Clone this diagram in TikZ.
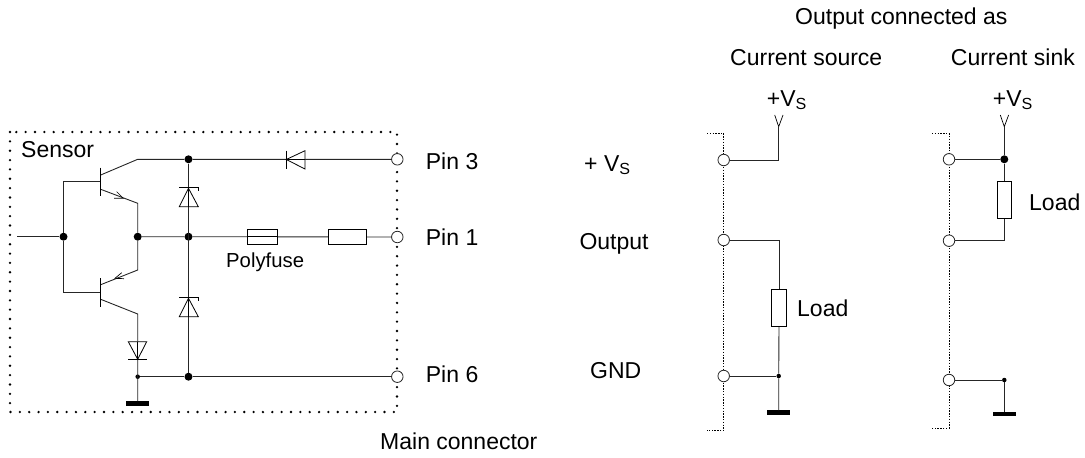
\documentclass[tikz,border=0pt]{standalone}
\usepackage{fontspec}
\setmainfont{Liberation Sans}
\tikzset{
  wire/.style={draw=black!85,line width=0.9pt},
  thin wire/.style={draw=black,line width=0.7pt},
  box/.style={draw=black,line width=0.8pt,fill=white},
  pinring/.style={circle,draw=black!85,line width=0.8pt,fill=white,minimum size=11.5pt,inner sep=0pt},
  bigdot/.style={circle,fill=black,minimum size=8pt,inner sep=0pt},
  smalldot/.style={circle,fill=black,minimum size=4.5pt,inner sep=0pt},
  gnd/.style={rectangle,fill=black,minimum width=23pt,minimum height=4.5pt,inner sep=0pt},
  lbl/.style={anchor=base west,inner sep=0pt,font=\fontsize{23}{26}\selectfont},
  small/.style={anchor=base west,inner sep=0pt,font=\fontsize{20.3}{24}\selectfont},
  bigdotted/.style={draw=black,line width=2.6pt,line cap=round,dash pattern=on 0pt off 9.35pt},
  finedotted/.style={draw=black,line width=1pt,dash pattern=on 1.4pt off 1.4pt},
}
\newcommand{\vsub}[1]{#1\textsubscript{\hspace{0pt}S}}
\begin{document}
\begin{tikzpicture}[x=1pt,y=-1pt]
\useasboundingbox (0,0) rectangle (1085,458);
% sensor box
\draw[bigdotted] (10,132) rectangle (397,412);
\node[lbl] (sensor) at (21,157) {Sensor};
% pins
\node[pinring] (p3) at (397.3,159.3) {};
\node[pinring] (p1) at (397.3,237) {};
\node[pinring] (p6) at (397.3,376.7) {};
% junctions
\node[bigdot] (j1) at (63.5,236.7) {};
\node[bigdot] (j2) at (137.7,236.7) {};
\node[bigdot] (j3) at (188.5,236.7) {};
\node[bigdot] (j4) at (188.5,159.3) {};
\node[bigdot] (j5) at (188.5,376.7) {};
\node[smalldot] (j6) at (137.7,376.7) {};
\node[gnd] (g1) at (137.7,403.5) {};
\coordinate (in) at (17.3,236.7);
% base network
\coordinate (b1) at (100.7,181.7);
\coordinate (b2) at (100.7,292.3);
\coordinate (c1a) at (100.7,175);
\coordinate (c1b) at (137.7,159.3);
\coordinate (e1a) at (100.7,189.3);
\coordinate (e1b) at (137.7,203.3);
\coordinate (e2a) at (100.7,284.7);
\coordinate (e2b) at (137.7,270);
\coordinate (c2a) at (100.7,299.3);
\coordinate (c2b) at (137.7,314);
\draw[wire] (in) -- (j1);
\draw[wire] (b1) -| (j1) |- (b2);
\draw[wire] (c1a) -- (c1b) -- (j4) -- (p3);
\draw[wire] (e1a) -- (e1b) -- (j2) -- (e2b) -- (e2a);
\draw[wire] (c2a) -- (c2b) -- (g1);
\draw[wire] (j2) -- (j3) -- (p1);
\draw[wire] (j4) -- (j5);
\draw[wire] (j6) -- (j5) -- (p6);
% transistor bars
\draw[thin wire] (100.7,167.7) -- (100.7,196);
\draw[thin wire] (100.7,278) -- (100.7,306.7);
% emitter arrows
\draw[thin wire] (116.7,191.7) -- (123.3,198.3) -- (114,198.3);
\draw[thin wire] (121.7,272.7) -- (115,278.3) -- (124,278.7);
% lower diode
\draw[box] (128.3,341.7) -- (146.7,341.7) -- (137.7,359.3) -- cycle;
\draw[thin wire] (128.3,359.3) -- (146.7,359.3);
\draw[thin wire] (137.7,341.7) -- (137.7,359.3);
% zeners
\draw[box] (179.3,206.7) -- (198.3,206.7) -- (188.5,188.3) -- cycle;
\draw[thin wire] (188.5,188.3) -- (188.5,206.7);
\draw[thin wire] (179.3,187.7) -- (198.3,187.7) -- (198.3,190.5);
\draw[box] (179.3,316.7) -- (198.3,316.7) -- (188.5,298.3) -- cycle;
\draw[thin wire] (188.5,298.3) -- (188.5,316.7);
\draw[thin wire] (179.3,297.7) -- (198.3,297.7) -- (198.3,300.5);
% series diode
\draw[box] (305,150.7) -- (305,169) -- (286.3,159.5) -- cycle;
\draw[thin wire] (286.3,150.7) -- (286.3,169);
\draw[thin wire] (286.3,159.3) -- (305,159.3);
% fuse, resistor
\node[box,minimum width=30pt,minimum height=15pt,inner sep=0pt] (fuse) at (262.7,236.8) {};
\draw[thin wire] (fuse.west) -- (fuse.east);
\node[box,minimum width=37.3pt,minimum height=15pt,inner sep=0pt] (res) at (347.3,236.8) {};
\node[small] (poly) at (226,267) {Polyfuse};
\node[lbl] (pin3) at (425.7,169) {Pin 3};
\node[lbl] (pin1) at (425.7,245.7) {Pin 1};
\node[lbl] (pin6) at (425.7,382.3) {Pin 6};
\node[lbl] (vs) at (584,171) {+ \vsub{V}};
\node[lbl] (out) at (579.3,249) {Output};
\node[lbl] (gnd) at (590,378) {GND};
\node[lbl] (main) at (380,449) {Main connector};
\node[lbl] (head) at (795,24) {Output connected as};
\node[lbl] (csrc) at (730,65) {Current source};
\node[lbl] (csnk) at (950.7,65) {Current sink};
% source panel
\draw[finedotted] (707,133.3) -- (723.7,133.3) -- (723.7,430.7) -- (707,430.7);
\node[pinring] (a1) at (723.7,160) {};
\node[pinring] (a2) at (723.7,240) {};
\node[pinring] (a3) at (723.7,376) {};
\node[lbl] (avs) at (766.7,106) {+\vsub{V}};
\coordinate (at) at (778.7,126.7);
\draw[thin wire] (774.7,115) -- (at) -- (783,115);
\node[box,minimum width=15.4pt,minimum height=37.4pt,inner sep=0pt] (al) at (779,308) {};
\node[smalldot] (ad) at (778.7,376) {};
\node[gnd] (ag) at (778.7,412.7) {};
\draw[wire] (a1) -| (at);
\draw[wire] (a2) -| (al.north);
\draw[wire] (al.south) -- (ad) -- (ag);
\draw[wire] (a3) -- (ad);
\node[lbl] (aload) at (797,316.7) {Load};
% sink panel
\draw[finedotted] (932,133.3) -- (949,133.3) -- (949,428) -- (932,428);
\node[pinring] (b1p) at (949,159.3) {};
\node[pinring] (b2p) at (949,240.7) {};
\node[pinring] (b3p) at (949,380) {};
\node[lbl] (bvs) at (992.7,106) {+\vsub{V}};
\coordinate (bt) at (1004.3,126.7);
\draw[thin wire] (1000.3,115) -- (bt) -- (1008.6,115);
\node[bigdot] (bd) at (1004.3,159.3) {};
\node[box,minimum width=14.7pt,minimum height=36.6pt,inner sep=0pt] (bl) at (1004.3,200) {};
\node[smalldot] (bd2) at (1004.3,380) {};
\node[gnd] (bg) at (1004.3,414) {};
\draw[wire] (bt) -- (bd) -- (bl.north);
\draw[wire] (b1p) -- (bd);
\draw[wire] (bl.south) |- (b2p);
\draw[wire] (b3p) -- (bd2) -- (bg);
\node[lbl] (bload) at (1029,210) {Load};
\end{tikzpicture}
\end{document}
